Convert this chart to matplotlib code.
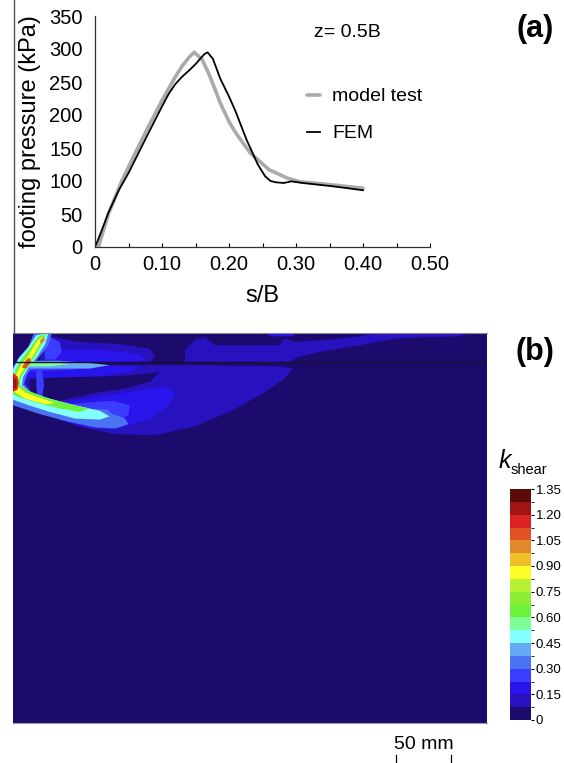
import numpy as np
import matplotlib.pyplot as plt
from matplotlib.colors import ListedColormap, BoundaryNorm
from matplotlib.cm import ScalarMappable
from matplotlib.lines import Line2D

plt.rcParams['font.family'] = ['Liberation Sans', 'DejaVu Sans']

# ---- (a) footing pressure vs s/B, z = 0.5B
sB_test = [0.005, 0.02, 0.04, 0.06, 0.08, 0.10, 0.12, 0.13, 0.14, 0.148, 0.16, 0.17, 0.18,
           0.187, 0.20, 0.21, 0.232, 0.26, 0.288, 0.305, 0.355, 0.40]
p_test = [0, 50, 100, 142, 183, 222, 258, 274, 287, 295, 284, 262, 237,
          218, 190, 173, 142, 117, 104, 99, 94, 89]

sB_fem = [0, 0.005, 0.01, 0.02, 0.036, 0.05, 0.075, 0.10, 0.11, 0.12, 0.13, 0.142, 0.15, 0.156,
          0.163, 0.168, 0.176, 0.187, 0.20, 0.21, 0.226, 0.243, 0.254, 0.262, 0.27, 0.282, 0.293,
          0.31, 0.355, 0.40]
p_fem = [0, 12, 25, 52, 87, 112, 163, 213, 232, 247, 258, 269, 277, 284,
         292, 295, 285, 255, 228, 205, 163, 125, 107, 100, 98, 97, 99.5,
         97, 92, 86]

# ---- (b) k_shear contour field, regions outlined in mm (x right, y down)
levels = np.arange(0, 1.35 + 0.01, 0.075)
cb_ticks = [0, 0.15, 0.30, 0.45, 0.60, 0.75, 0.90, 1.05, 1.20, 1.35]
cb_labels = ['0', '0.15', '0.30', '0.45', '0.60', '0.75', '0.90', '1.05', '1.20', '1.35']
band_colors = ['#1c0a6c', '#2812c0', '#2a14ec', '#3a3cff', '#4a72f2', '#66aaf6', '#84ffff',
               '#7cff96', '#6cf23a', '#8cee32', '#b8f234', '#ffff28', '#eec028', '#e0882a',
               '#e05224', '#dc2222', '#a01414', '#5a0c0c']

map_w, map_h = 427, 351
ground_y = 26.5

lens_outer = [(0, 27), (78, 29), (168, 29), (240, 30), (252, 32), (246, 40), (224, 55), (197, 70),
              (164, 84), (128, 92), (92, 91), (56, 83), (29, 72), (0, 60)]
top_right = [(155, 26), (155, 15), (164, 6), (173, 4), (182, 11), (240, 11), (245, 5), (254, 8),
             (285, 6), (312, 3), (330, 0), (411, 0), (402, 3), (366, 4), (346, 5), (312, 11),
             (276, 17), (256, 22), (249, 26)]
top_left = [(33, 3), (60, 8), (96, 10), (123, 14), (128, 21), (123, 26), (24, 26), (26, 15)]
top_strip = [(229, 0), (256, 0), (251, 3), (231, 3)]
top_left_in = [(33, 15), (78, 15), (114, 19), (119, 24), (114, 26), (29, 26)]
pocket = [(15, 38), (51, 39), (87, 39), (119, 37), (132, 35), (123, 44), (101, 50), (74, 54),
          (47, 60), (29, 64), (15, 59)]
lens_inner = [(24, 65), (60, 60), (105, 53), (137, 48), (146, 53), (141, 65), (123, 77), (96, 86),
              (69, 86), (42, 78), (24, 71)]
lens_core = [(32, 66), (63, 63), (90, 61), (105, 65), (104, 74), (90, 81), (68, 83), (45, 79), (32, 74)]
lens_core2 = [(41, 68), (63, 68), (86, 69), (90, 75), (77, 79), (59, 79), (45, 77)]
arc_upper = [(6, 27), (42, 28), (78, 29), (114, 30), (105, 35), (78, 39), (42, 40), (11, 41)]
arc_upper2 = [(11, 27), (45, 28), (72, 30), (54, 33), (27, 34), (11, 34)]
streak_v = [(21, 32), (26, 32), (28, 47), (26, 60), (22, 60), (21, 47)]
arm_halo = [(32, 3), (42, 8), (44, 17), (38, 24), (29, 24), (28, 14)]
band_4 = [(35, 0), (32, 11), (24, 21), (17, 30), (12, 39), (10, 46), (17, 54), (33, 60), (60, 68),
          (87, 72), (101, 77), (104, 82), (92, 86), (74, 85), (51, 80), (24, 73), (0, 65), (0, 31),
          (6, 21), (14, 12), (19, 0)]
streak_h5 = [(14, 25), (42, 25), (69, 27), (87, 29), (69, 32), (42, 32), (15, 32)]
band_6 = [(32, 0), (29, 10), (22, 21), (14, 31), (9, 40), (8, 47), (15, 53), (33, 59), (56, 65),
          (78, 70), (87, 75), (78, 78), (56, 77), (33, 71), (14, 65), (0, 60), (0, 33), (5, 23),
          (13, 14), (21, 2)]
streak_h7 = [(14, 26), (33, 26), (51, 28), (33, 30), (14, 30)]
band_8 = [(30, 1), (26, 10), (20, 21), (13, 31), (7, 40), (6, 47), (14, 52), (32, 59), (51, 64),
          (69, 68), (60, 71), (42, 68), (23, 63), (6, 58), (0, 55), (0, 38), (6, 26), (14, 15), (23, 3)]
band_11 = [(27, 3), (23, 12), (17, 22), (10, 32), (5, 41), (4, 48), (12, 54), (29, 60), (38, 63),
           (29, 64), (11, 59), (1, 53), (1, 41), (6, 31), (14, 20), (22, 7)]
spot_top = [(24, 7), (27, 4), (29, 6), (26, 10)]
spot_junction = [(8, 31), (12, 24), (15, 22), (16, 26), (12, 32)]
spot_edge = [(0, 36), (4, 39), (5, 45), (4, 51), (0, 53)]
spot_edge_in = [(0, 40), (3, 42), (3, 49), (0, 50)]

draw_order = [(lens_outer, 1), (top_right, 1), (top_left, 1), (top_strip, 2), (top_left_in, 2),
              (pocket, 0), (lens_inner, 2), (lens_core, 3), (lens_core2, 4), (arc_upper, 2),
              (arc_upper2, 3), (streak_v, 3), (arm_halo, 3), (band_4, 4), (streak_h5, 5),
              (band_6, 6), (streak_h7, 7), (band_8, 8), (band_11, 11), (spot_top, 13),
              (spot_junction, 14), (spot_edge, 15), (spot_edge_in, 16)]

fig = plt.figure(figsize=(5.64, 7.63), dpi=100)

# ---------- panel (a)
ax = fig.add_axes([95/564, 1-247/763, 335/564, 231/763])
ax.plot(sB_test, p_test, color='#aaaaaa', lw=2.6, solid_capstyle='round', label='model test')
ax.plot(sB_fem, p_fem, color='black', lw=1.3, label='FEM')
ax.set_xlim(0, 0.5)
ax.set_ylim(0, 350)
ax.set_xticks([0, 0.1, 0.2, 0.3, 0.4, 0.5])
ax.set_xticklabels(['0', '0.10', '0.20', '0.30', '0.40', '0.50'])
ax.set_xticks(np.arange(0.05, 0.5, 0.1), minor=True)
ax.set_yticks(np.arange(0, 351, 50))
ax.tick_params(axis='both', which='both', direction='in', length=3, width=0.8, labelsize=14.5)
ax.tick_params(axis='x', pad=6)
ax.tick_params(axis='y', length=0, pad=9)
for s in ['top', 'right']:
    ax.spines[s].set_visible(False)
for s in ['left', 'bottom']:
    ax.spines[s].set_color('#333333')
    ax.spines[s].set_linewidth(0.9)
ax.set_xlabel('s/B', fontsize=17, labelpad=8)
ax.set_ylabel('footing pressure (kPa)', fontsize=17, labelpad=6)
ax.text(0.752, 0.93, 'z= 0.5B', transform=ax.transAxes, ha='center', va='center', fontsize=14)
ax.legend(loc='upper left', bbox_to_anchor=(0.58, 0.765), frameon=False, fontsize=14,
          handlelength=0.7, handletextpad=0.6, labelspacing=1.0)

fig.text(535/564, 1-29/763, '(a)', fontsize=22, fontweight='bold', ha='center', va='center')
fig.text(535/564, 1-352/763, '(b)', fontsize=22, fontweight='bold', ha='center', va='center')
fig.add_artist(Line2D([13.5/564, 13.5/564], [1, 1-333/763], color='#555555', lw=1))

# ---------- panel (b)
cmap = ListedColormap(band_colors)
norm = BoundaryNorm(levels, cmap.N)

ax2 = fig.add_axes([13/564, 40/763, 474/564, 390/763])
ax2.set_xlim(0, map_w)
ax2.set_ylim(map_h, 0)
ax2.set_facecolor(band_colors[0])
for pts, lev in draw_order:
    xs, ys = zip(*pts)
    ax2.fill(xs, ys, color=cmap(lev), lw=0, antialiased=True)
ax2.axhline(ground_y, color='#1a1030', lw=1.0)
ax2.set_xticks([])
ax2.set_yticks([])
for s in ['right', 'left']:
    ax2.spines[s].set_visible(False)
ax2.spines['top'].set_color('#888888')
ax2.spines['bottom'].set_color('#9a9ab8')

# scale bar
bar_start, bar_len = 345, 50
ax2.text(bar_start + bar_len/2, 370, '50 mm', ha='center', va='center', fontsize=14, clip_on=False)
for xb in [bar_start, bar_start + bar_len]:
    ax2.plot([xb, xb], [380, 390], color='black', lw=0.9, clip_on=False)

# colorbar
cax = fig.add_axes([510/564, 43/763, 21/564, 231/763])
cb = fig.colorbar(ScalarMappable(norm=norm, cmap=cmap), cax=cax, ticks=cb_ticks)
cb.ax.set_yticklabels(cb_labels)
cb.outline.set_visible(False)
cb.ax.tick_params(labelsize=9.5, length=2, width=0.8, pad=1.5)
fig.text(499/564, 1-461/763, 'k', fontsize=18, style='italic', ha='left', va='center')
fig.text(511/564, 1-470/763, 'shear', fontsize=10.5, ha='left', va='center')

fig.savefig('out.png', dpi=100)
